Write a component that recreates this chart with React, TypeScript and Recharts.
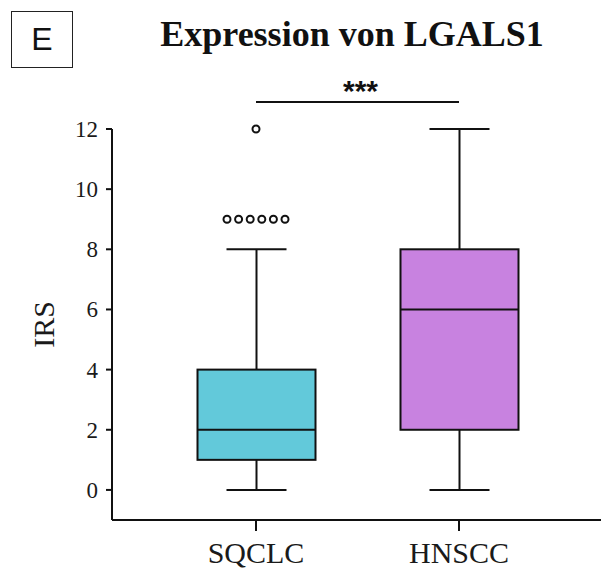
import { Bar, ComposedChart, ReferenceLine, Scatter, XAxis, YAxis } from "recharts";

// box plot summary per group (IRS score)
const categories = ["SQCLC", "HNSCC"];
const whiskerLow = [0, 0];
const quartile1 = [1, 2];
const medians = [2, 6];
const quartile3 = [4, 8];
const whiskerHigh = [8, 12];
const boxColors = ["#62c9da", "#c882e0"];

// outliers, one entry per point
const outlierGroups = ["SQCLC", "SQCLC", "SQCLC", "SQCLC", "SQCLC", "SQCLC", "SQCLC"];
const outlierValues = [9, 9, 9, 9, 9, 9, 12];

const yTicks = [0, 2, 4, 6, 8, 10, 12];
const SIG_Y = 12.9;

const SERIF = "'Liberation Serif', 'Times New Roman', serif";
const SANS = "'Liberation Sans', Arial, sans-serif";

const boxRows = categories.map((cat, i) => ({
  cat,
  lo: whiskerLow[i],
  q1: quartile1[i],
  med: medians[i],
  q3: quartile3[i],
  hi: whiskerHigh[i],
  range: [whiskerLow[i], whiskerHigh[i]],
  color: boxColors[i]
}));

// rank identical outliers so they can be spread side by side
const outlierRows = outlierValues.map((v, i) => {
  const same = outlierValues
    .map((w, j) => ({ w, j }))
    .filter(({ w, j }) => w === v && outlierGroups[j] === outlierGroups[i]);
  return {
    cat: outlierGroups[i],
    v,
    rank: same.findIndex((s) => s.j === i),
    count: same.length
  };
});

function BoxShape(props: any) {
  const { x, y, width, height, payload } = props;
  const top = Math.min(y, y + height);
  const h = Math.abs(height);
  const span = payload.hi - payload.lo;
  const toY = (v: number) => top + ((payload.hi - v) / span) * h;
  const cx = x + width / 2;
  const cap = 30;
  const stroke = "#111";
  return (
    <g>
      <line x1={cx} x2={cx} y1={toY(payload.hi)} y2={toY(payload.q3)} stroke={stroke} strokeWidth={2} />
      <line x1={cx} x2={cx} y1={toY(payload.q1)} y2={toY(payload.lo)} stroke={stroke} strokeWidth={2} />
      <line x1={cx - cap} x2={cx + cap} y1={toY(payload.hi)} y2={toY(payload.hi)} stroke={stroke} strokeWidth={2} />
      <line x1={cx - cap} x2={cx + cap} y1={toY(payload.lo)} y2={toY(payload.lo)} stroke={stroke} strokeWidth={2} />
      <rect
        x={x}
        y={toY(payload.q3)}
        width={width}
        height={toY(payload.q1) - toY(payload.q3)}
        fill={payload.color}
        stroke={stroke}
        strokeWidth={2}
      />
      <line x1={x} x2={x + width} y1={toY(payload.med)} y2={toY(payload.med)} stroke={stroke} strokeWidth={2} />
    </g>
  );
}

function OutlierDot(props: any) {
  const { cx, cy, payload } = props;
  const dx = (payload.rank - (payload.count - 1) / 2) * 11.6;
  return <circle cx={cx + dx} cy={cy} r={3.5} fill="#fff" stroke="#111" strokeWidth={2} />;
}

function XTick(props: any) {
  const { x, y, payload } = props;
  return (
    <text x={x} y={y + 21} textAnchor="middle" fill="#1a1a1a" style={{ fontFamily: SERIF, fontSize: 30 }}>
      {payload.value}
    </text>
  );
}

function YTick(props: any) {
  const { x, y, payload } = props;
  return (
    <text x={x} y={y + 8} textAnchor="end" fill="#1a1a1a" style={{ fontFamily: SERIF, fontSize: 23 }}>
      {payload.value}
    </text>
  );
}

export default function App() {
  return (
    <div
      style={{
        position: "absolute",
        left: 0,
        top: 0,
        width: 601,
        height: 572,
        background: "#fff",
        fontFamily: SERIF
      }}
    >
      <div
        style={{
          position: "absolute",
          left: 11,
          top: 11,
          width: 60,
          height: 55,
          border: "1.5px solid #222",
          fontFamily: SANS,
          fontSize: 32,
          lineHeight: "55px",
          textAlign: "center",
          color: "#111"
        }}
      >
        E
      </div>
      <div
        style={{
          position: "absolute",
          left: 152,
          top: 12,
          width: 400,
          textAlign: "center",
          fontFamily: SERIF,
          fontWeight: 700,
          fontSize: 36,
          lineHeight: "44px",
          color: "#111"
        }}
      >
        Expression von LGALS1
      </div>
      <ComposedChart
        width={601}
        height={572}
        data={boxRows}
        margin={{ top: 129, right: 0, bottom: 0, left: 0 }}
        style={{ position: "absolute", left: 0, top: 0 }}
      >
        <XAxis
          dataKey="cat"
          type="category"
          allowDuplicatedCategory={false}
          padding={{ left: 42.5, right: 40.5 }}
          height={52}
          tickSize={11}
          tickMargin={11}
          axisLine={{ stroke: "#111", strokeWidth: 2 }}
          tickLine={{ stroke: "#111", strokeWidth: 2 }}
          tick={XTick}
        />
        <YAxis
          type="number"
          domain={[-1, 12]}
          ticks={yTicks}
          width={112}
          tickSize={6}
          tickMargin={8}
          axisLine={{ stroke: "#111", strokeWidth: 2 }}
          tickLine={{ stroke: "#111", strokeWidth: 2 }}
          tick={YTick}
          label={{
            value: "IRS",
            angle: -90,
            position: "center",
            dx: -13,
            style: { fill: "#1a1a1a", fontSize: 30, fontFamily: SERIF }
          }}
        />
        <Bar dataKey="range" barSize={118} shape={BoxShape} isAnimationActive={false} />
        <Scatter data={outlierRows} dataKey="v" shape={OutlierDot} isAnimationActive={false} />
        <ReferenceLine
          segment={[
            { x: "SQCLC", y: SIG_Y },
            { x: "HNSCC", y: SIG_Y }
          ]}
          ifOverflow="visible"
          stroke="#111"
          strokeWidth={2}
          label={{
            value: "***",
            position: "top",
            offset: 1,
            dx: 3,
            style: { fill: "#111", fontSize: 30, fontWeight: 700, fontFamily: SANS }
          }}
        />
      </ComposedChart>
    </div>
  );
}
